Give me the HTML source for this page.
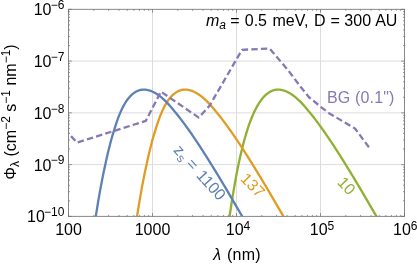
<!DOCTYPE html>
<html><head><meta charset="utf-8"><title>plot</title>
<style>
html,body{margin:0;padding:0;background:#fff;}
body{width:417px;height:264px;overflow:hidden;}
svg{display:block;font-family:"Liberation Sans",sans-serif;will-change:transform;opacity:0.999;}
.g{stroke:#dcdcdc;stroke-width:1;}
.c{fill:none;stroke-width:2.3;stroke-linejoin:round;}
text{font-size:16px;fill:#000;}
.sup{font-size:12px;}
</style></head><body>
<svg width="417" height="264" viewBox="0 0 417 264">
<defs><clipPath id="cp"><rect x="68.5" y="9.35" width="336.0" height="207.05"/></clipPath></defs>
<rect width="417" height="264" fill="#fff"/>
<line x1="152.50" y1="9.35" x2="152.50" y2="216.4" class="g"/>
<line x1="68.5" y1="61.11" x2="404.5" y2="61.11" class="g"/>
<line x1="236.50" y1="9.35" x2="236.50" y2="216.4" class="g"/>
<line x1="68.5" y1="112.88" x2="404.5" y2="112.88" class="g"/>
<line x1="320.50" y1="9.35" x2="320.50" y2="216.4" class="g"/>
<line x1="68.5" y1="164.64" x2="404.5" y2="164.64" class="g"/>
<g clip-path="url(#cp)">
<path class="c" stroke="#8FB032" d="M225.97,243.74 L226.97,235.84 L227.97,228.25 L228.96,220.96 L229.96,213.95 L230.95,207.23 L231.94,200.78 L232.94,194.59 L233.93,188.65 L234.92,182.96 L235.92,177.51 L236.91,172.29 L237.90,167.30 L238.90,162.52 L239.90,157.95 L240.90,153.58 L241.90,149.41 L242.90,145.43 L243.90,141.63 L244.90,138.01 L245.90,134.57 L246.90,131.29 L247.90,128.17 L248.90,125.21 L249.91,122.41 L250.92,119.75 L251.93,117.23 L252.94,114.85 L253.94,112.61 L254.95,110.49 L255.96,108.50 L256.96,106.63 L257.97,104.88 L258.97,103.24 L259.98,101.72 L260.98,100.30 L261.98,98.98 L262.98,97.77 L263.99,96.65 L264.99,95.62 L265.99,94.69 L266.99,93.84 L267.99,93.08 L268.99,92.40 L270.00,91.80 L271.00,91.28 L272.00,90.83 L273.00,90.46 L274.00,90.16 L275.00,89.92 L276.00,89.75 L277.00,89.65 L278.00,89.61 L279.00,89.62 L279.99,89.70 L280.99,89.83 L281.98,90.02 L282.97,90.25 L283.96,90.54 L284.95,90.88 L285.93,91.27 L286.92,91.70 L287.90,92.18 L288.88,92.70 L289.86,93.27 L290.83,93.87 L291.81,94.51 L292.78,95.20 L293.76,95.91 L294.73,96.67 L295.70,97.46 L296.67,98.28 L297.63,99.14 L298.60,100.03 L299.55,100.94 L300.51,101.89 L301.46,102.87 L302.41,103.87 L303.35,104.90 L304.30,105.96 L305.25,107.04 L306.19,108.15 L307.14,109.28 L308.08,110.43 L309.02,111.61 L310.00,112.80 L311.00,114.02 L312.00,115.26 L313.00,116.51 L314.00,117.79 L315.00,119.08 L316.00,120.40 L317.00,121.72 L318.00,123.07 L319.00,124.43 L320.01,125.81 L321.02,127.20 L322.03,128.61 L323.04,130.03 L324.06,131.46 L325.07,132.91 L326.08,134.37 L327.09,135.84 L328.11,137.33 L329.12,138.83 L330.13,140.34 L331.14,141.85 L332.16,143.38 L333.17,144.92 L334.18,146.47 L335.20,148.03 L336.21,149.60 L337.22,151.18 L338.24,152.77 L339.25,154.36 L340.27,155.96 L341.28,157.58 L342.29,159.19 L343.31,160.82 L344.33,162.45 L345.35,164.09 L346.38,165.74 L347.40,167.40 L348.42,169.06 L349.44,170.72 L350.47,172.39 L351.49,174.07 L352.51,175.76 L353.53,177.44 L354.56,179.14 L355.58,180.84 L356.60,182.54 L357.62,184.25 L358.65,185.96 L359.67,187.68 L360.69,189.40 L361.71,191.13 L362.73,192.86 L363.75,194.59 L364.77,196.33 L365.79,198.07 L366.81,199.82 L367.83,201.57 L368.85,203.32 L369.87,205.08 L370.89,206.83 L371.91,208.60 L372.93,210.36 L373.96,212.13 L374.98,213.90 L376.00,215.67 L377.00,217.45 L378.00,219.22 L379.00,221.00 L380.00,222.79 L381.00,224.57"/>
<path class="c" stroke="#E19C24" d="M133.30,243.74 L134.30,235.84 L135.31,228.25 L136.36,220.96 L137.42,213.95 L138.50,207.23 L139.57,200.78 L140.64,194.59 L141.70,188.65 L142.77,182.96 L143.83,177.51 L144.90,172.29 L145.97,167.30 L147.00,162.52 L148.00,157.95 L149.00,153.58 L150.00,149.41 L151.00,145.43 L152.00,141.63 L153.00,138.01 L154.00,134.57 L155.00,131.29 L156.00,128.17 L156.97,125.21 L157.88,122.41 L158.79,119.75 L159.71,117.23 L160.63,114.85 L161.56,112.61 L162.50,110.49 L163.44,108.50 L164.39,106.63 L165.34,104.88 L166.29,103.24 L167.25,101.72 L168.21,100.30 L169.18,98.98 L170.16,97.77 L171.14,96.65 L172.12,95.62 L173.10,94.69 L174.08,93.84 L175.07,93.08 L176.06,92.40 L177.04,91.80 L178.03,91.28 L179.03,90.83 L180.02,90.46 L181.01,90.16 L182.01,89.92 L183.00,89.75 L184.00,89.65 L185.00,89.61 L186.00,89.62 L186.99,89.70 L187.99,89.83 L188.98,90.02 L189.97,90.25 L190.96,90.54 L191.95,90.88 L192.93,91.27 L193.92,91.70 L194.90,92.18 L195.88,92.70 L196.86,93.27 L197.83,93.87 L198.81,94.51 L199.78,95.20 L200.76,95.91 L201.73,96.67 L202.70,97.46 L203.67,98.28 L204.63,99.14 L205.60,100.03 L206.55,100.94 L207.51,101.89 L208.46,102.87 L209.41,103.87 L210.35,104.90 L211.30,105.96 L212.25,107.04 L213.19,108.15 L214.14,109.28 L215.08,110.43 L216.02,111.61 L217.00,112.80 L218.00,114.02 L219.00,115.26 L220.00,116.51 L221.00,117.79 L222.00,119.08 L223.00,120.40 L224.00,121.72 L225.00,123.07 L226.00,124.43 L227.01,125.81 L228.02,127.20 L229.03,128.61 L230.04,130.03 L231.06,131.46 L232.07,132.91 L233.08,134.37 L234.09,135.84 L235.11,137.33 L236.12,138.83 L237.13,140.34 L238.14,141.85 L239.16,143.38 L240.17,144.92 L241.18,146.47 L242.20,148.03 L243.21,149.60 L244.22,151.18 L245.24,152.77 L246.25,154.36 L247.27,155.96 L248.28,157.58 L249.29,159.19 L250.31,160.82 L251.33,162.45 L252.35,164.09 L253.38,165.74 L254.40,167.40 L255.42,169.06 L256.44,170.72 L257.47,172.39 L258.49,174.07 L259.51,175.76 L260.53,177.44 L261.56,179.14 L262.58,180.84 L263.60,182.54 L264.62,184.25 L265.65,185.96 L266.67,187.68 L267.69,189.40 L268.71,191.13 L269.73,192.86 L270.75,194.59 L271.77,196.33 L272.79,198.07 L273.81,199.82 L274.83,201.57 L275.85,203.32 L276.87,205.08 L277.89,206.83 L278.91,208.60 L279.93,210.36 L280.96,212.13 L281.98,213.90 L283.00,215.67 L284.00,217.45 L285.00,219.22 L286.00,221.00 L287.00,222.79 L288.00,224.57"/>
<path class="c" stroke="#5E81B5" d="M92.05,243.74 L93.05,235.84 L94.06,228.25 L95.11,220.96 L96.17,213.95 L97.25,207.23 L98.32,200.78 L99.39,194.59 L100.45,188.65 L101.52,182.96 L102.58,177.51 L103.65,172.29 L104.72,167.30 L105.75,162.52 L106.75,157.95 L107.75,153.58 L108.75,149.41 L109.75,145.43 L110.75,141.63 L111.75,138.01 L112.75,134.57 L113.75,131.29 L114.75,128.17 L115.72,125.21 L116.63,122.41 L117.54,119.75 L118.46,117.23 L119.38,114.85 L120.31,112.61 L121.25,110.49 L122.19,108.50 L123.14,106.63 L124.09,104.88 L125.04,103.24 L126.00,101.72 L126.96,100.30 L127.93,98.98 L128.91,97.77 L129.89,96.65 L130.87,95.62 L131.85,94.69 L132.83,93.84 L133.82,93.08 L134.81,92.40 L135.79,91.80 L136.78,91.28 L137.78,90.83 L138.77,90.46 L139.76,90.16 L140.76,89.92 L141.75,89.75 L142.75,89.65 L143.75,89.61 L144.75,89.62 L145.74,89.70 L146.74,89.83 L147.73,90.02 L148.72,90.25 L149.71,90.54 L150.70,90.88 L151.68,91.27 L152.67,91.70 L153.65,92.18 L154.63,92.70 L155.61,93.27 L156.58,93.87 L157.56,94.51 L158.53,95.20 L159.51,95.91 L160.48,96.67 L161.45,97.46 L162.42,98.28 L163.38,99.14 L164.35,100.03 L165.30,100.94 L166.26,101.89 L167.21,102.87 L168.16,103.87 L169.10,104.90 L170.05,105.96 L171.00,107.04 L171.94,108.15 L172.89,109.28 L173.83,110.43 L174.77,111.61 L175.75,112.80 L176.75,114.02 L177.75,115.26 L178.75,116.51 L179.75,117.79 L180.75,119.08 L181.75,120.40 L182.75,121.72 L183.75,123.07 L184.75,124.43 L185.76,125.81 L186.77,127.20 L187.78,128.61 L188.79,130.03 L189.81,131.46 L190.82,132.91 L191.83,134.37 L192.84,135.84 L193.86,137.33 L194.87,138.83 L195.88,140.34 L196.89,141.85 L197.91,143.38 L198.92,144.92 L199.93,146.47 L200.95,148.03 L201.96,149.60 L202.97,151.18 L203.99,152.77 L205.00,154.36 L206.02,155.96 L207.03,157.58 L208.04,159.19 L209.06,160.82 L210.08,162.45 L211.10,164.09 L212.13,165.74 L213.15,167.40 L214.17,169.06 L215.19,170.72 L216.22,172.39 L217.24,174.07 L218.26,175.76 L219.28,177.44 L220.31,179.14 L221.33,180.84 L222.35,182.54 L223.37,184.25 L224.40,185.96 L225.42,187.68 L226.44,189.40 L227.46,191.13 L228.48,192.86 L229.50,194.59 L230.52,196.33 L231.54,198.07 L232.56,199.82 L233.58,201.57 L234.60,203.32 L235.62,205.08 L236.64,206.83 L237.66,208.60 L238.68,210.36 L239.71,212.13 L240.73,213.90 L241.75,215.67 L242.75,217.45 L243.75,219.22 L244.75,221.00 L245.75,222.79 L246.75,224.57"/>
<path class="c" stroke="#8778B3" stroke-dasharray="6.4 3.21" stroke-dashoffset="2.5" d="M66.2,130.9 L77,142.6 L145.8,120.9 L160.9,91.6 L198.8,117.6 L209.5,105.8 L242,49.8 L269.6,48.5 L288.4,70.6 L300.2,86.3 L308.8,97 L320.7,106.8 L329,113.2 L355,128.5 L370,148.7"/>
</g>
<rect x="68.5" y="9.35" width="336.0" height="207.05" fill="none" stroke="#888888" stroke-width="1"/>
<path d="M68.50,216.4v-3.3M68.50,9.35v3.3M68.5,9.35h3.3M404.5,9.35h-3.3M93.79,216.4v-1.5M93.79,9.35v1.5M68.5,45.53h1.5M404.5,45.53h-1.5M108.58,216.4v-1.5M108.58,9.35v1.5M68.5,36.42h1.5M404.5,36.42h-1.5M119.07,216.4v-1.5M119.07,9.35v1.5M68.5,29.95h1.5M404.5,29.95h-1.5M127.21,216.4v-1.5M127.21,9.35v1.5M68.5,24.93h1.5M404.5,24.93h-1.5M133.86,216.4v-1.5M133.86,9.35v1.5M68.5,20.83h1.5M404.5,20.83h-1.5M139.49,216.4v-1.5M139.49,9.35v1.5M68.5,17.37h1.5M404.5,17.37h-1.5M144.36,216.4v-1.5M144.36,9.35v1.5M68.5,14.37h1.5M404.5,14.37h-1.5M148.66,216.4v-1.5M148.66,9.35v1.5M68.5,11.72h1.5M404.5,11.72h-1.5M152.50,216.4v-3.3M152.50,9.35v3.3M68.5,61.11h3.3M404.5,61.11h-3.3M177.79,216.4v-1.5M177.79,9.35v1.5M68.5,97.29h1.5M404.5,97.29h-1.5M192.58,216.4v-1.5M192.58,9.35v1.5M68.5,88.18h1.5M404.5,88.18h-1.5M203.07,216.4v-1.5M203.07,9.35v1.5M68.5,81.71h1.5M404.5,81.71h-1.5M211.21,216.4v-1.5M211.21,9.35v1.5M68.5,76.69h1.5M404.5,76.69h-1.5M217.86,216.4v-1.5M217.86,9.35v1.5M68.5,72.60h1.5M404.5,72.60h-1.5M223.49,216.4v-1.5M223.49,9.35v1.5M68.5,69.13h1.5M404.5,69.13h-1.5M228.36,216.4v-1.5M228.36,9.35v1.5M68.5,66.13h1.5M404.5,66.13h-1.5M232.66,216.4v-1.5M232.66,9.35v1.5M68.5,63.48h1.5M404.5,63.48h-1.5M236.50,216.4v-3.3M236.50,9.35v3.3M68.5,112.88h3.3M404.5,112.88h-3.3M261.79,216.4v-1.5M261.79,9.35v1.5M68.5,149.06h1.5M404.5,149.06h-1.5M276.58,216.4v-1.5M276.58,9.35v1.5M68.5,139.94h1.5M404.5,139.94h-1.5M287.07,216.4v-1.5M287.07,9.35v1.5M68.5,133.47h1.5M404.5,133.47h-1.5M295.21,216.4v-1.5M295.21,9.35v1.5M68.5,128.46h1.5M404.5,128.46h-1.5M301.86,216.4v-1.5M301.86,9.35v1.5M68.5,124.36h1.5M404.5,124.36h-1.5M307.49,216.4v-1.5M307.49,9.35v1.5M68.5,120.89h1.5M404.5,120.89h-1.5M312.36,216.4v-1.5M312.36,9.35v1.5M68.5,117.89h1.5M404.5,117.89h-1.5M316.66,216.4v-1.5M316.66,9.35v1.5M68.5,115.24h1.5M404.5,115.24h-1.5M320.50,216.4v-3.3M320.50,9.35v3.3M68.5,164.64h3.3M404.5,164.64h-3.3M345.79,216.4v-1.5M345.79,9.35v1.5M68.5,200.82h1.5M404.5,200.82h-1.5M360.58,216.4v-1.5M360.58,9.35v1.5M68.5,191.70h1.5M404.5,191.70h-1.5M371.07,216.4v-1.5M371.07,9.35v1.5M68.5,185.24h1.5M404.5,185.24h-1.5M379.21,216.4v-1.5M379.21,9.35v1.5M68.5,180.22h1.5M404.5,180.22h-1.5M385.86,216.4v-1.5M385.86,9.35v1.5M68.5,176.12h1.5M404.5,176.12h-1.5M391.49,216.4v-1.5M391.49,9.35v1.5M68.5,172.66h1.5M404.5,172.66h-1.5M396.36,216.4v-1.5M396.36,9.35v1.5M68.5,169.65h1.5M404.5,169.65h-1.5M400.66,216.4v-1.5M400.66,9.35v1.5M68.5,167.01h1.5M404.5,167.01h-1.5M404.50,216.4v-3.3M404.50,9.35v3.3M68.5,216.40h3.3M404.5,216.40h-3.3" stroke="#6c6c6c" stroke-width="0.7" fill="none"/>
<!-- x tick labels -->
<text x="68.5" y="235.0" text-anchor="middle">100</text>
<text x="152.5" y="235.0" text-anchor="middle">1000</text>
<text x="238" y="235.0" text-anchor="middle">10<tspan class="sup" dy="-5.4">4</tspan></text>
<text x="322" y="235.0" text-anchor="middle">10<tspan class="sup" dy="-5.4">5</tspan></text>
<text x="405.3" y="235.0" text-anchor="middle">10<tspan class="sup" dy="-5.4">6</tspan></text>
<!-- y tick labels -->
<text x="64.4" y="15.4" text-anchor="end">10<tspan class="sup" dx="-0.8" dy="-6.4">−6</tspan></text>
<text x="64.4" y="67.2" text-anchor="end">10<tspan class="sup" dx="-0.8" dy="-6.4">−7</tspan></text>
<text x="64.4" y="119.0" text-anchor="end">10<tspan class="sup" dx="-0.8" dy="-6.4">−8</tspan></text>
<text x="64.4" y="170.8" text-anchor="end">10<tspan class="sup" dx="-0.8" dy="-6.4">−9</tspan></text>
<text x="64.4" y="221.9" text-anchor="end">10<tspan class="sup" dx="-0.8" dy="-6.4">−10</tspan></text>
<!-- axis labels -->
<text x="213.2" y="259.9"><tspan font-style="italic">λ</tspan><tspan dx="1.2" letter-spacing="0.25"> (nm)</tspan></text>
<text transform="translate(16,112.0) rotate(-90)" text-anchor="middle">Φ<tspan class="sup" dy="3">λ</tspan><tspan dy="-3"> (cm</tspan><tspan class="sup" dy="-6.4">−2</tspan><tspan dy="6.4"> s</tspan><tspan class="sup" dy="-6.4">−1</tspan><tspan dy="6.4"> nm</tspan><tspan class="sup" dy="-6.4">−1</tspan><tspan dy="6.4">)</tspan></text>
<!-- title -->
<text x="206" y="26.2"><tspan font-style="italic">m</tspan><tspan class="sup" font-style="italic" dy="3">a</tspan><tspan dy="-3" dx="-0.3"> =</tspan><tspan dx="0.8"> 0.5</tspan><tspan dx="1"> meV,</tspan><tspan dx="1.3"> D</tspan><tspan dx="0.5"> =</tspan><tspan> 300</tspan><tspan dx="0.5"> AU</tspan></text>
<!-- curve labels -->
<text fill="#8778B3" style="fill:#8778B3" x="327" y="102.9" letter-spacing="0.15">BG (0.1")</text>
<text style="fill:#5E81B5" transform="translate(172.8,150.8) rotate(47.8)">z<tspan class="sup" dy="3">s</tspan><tspan dy="-3"> =</tspan><tspan dx="1.7"> 1100</tspan></text>
<text style="fill:#E19C24" transform="translate(239.6,179.5) rotate(45.3)">137</text>
<text style="fill:#8FB032" transform="translate(336.4,182.9) rotate(47)">10</text>
</svg>
</body></html>
